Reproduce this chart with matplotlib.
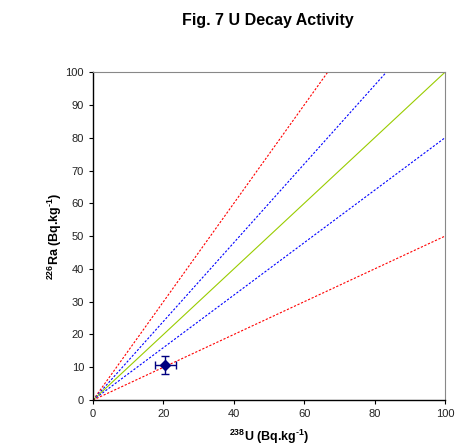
import matplotlib
matplotlib.use("Agg")
import matplotlib.pyplot as plt
import numpy as np

plt.rcParams['font.family'] = ['Liberation Sans', 'DejaVu Sans']
plt.rcParams['mathtext.fontset'] = 'custom'
plt.rcParams['mathtext.rm'] = 'Liberation Sans:bold'
plt.rcParams['mathtext.bf'] = 'Liberation Sans:bold'
plt.rcParams['mathtext.default'] = 'bf'

# Reference activity-ratio lines (Ra/U)
ratios = [1.5, 1.2, 1.0, 0.8, 0.5]
ratio_colors = ['#ff0000', '#0000ff', '#99cc00', '#0000ff', '#ff0000']
ratio_styles = ['--', '--', '-', '--', '--']

# Sample mean with uncertainty
u238 = [20.5]
ra226 = [10.8]
u238_err = [3.0]
ra226_err = [2.7]

xticks = [0, 20, 40, 60, 80, 100]
yticks = list(range(0, 101, 10))

fig = plt.figure(figsize=(4.56, 4.48), dpi=100)
ax = fig.add_axes([0.204, 0.107, 0.772, 0.732])

xs = np.array([0, 100])
for r, c, ls in zip(ratios, ratio_colors, ratio_styles):
    line, = ax.plot(xs, r * xs, color=c, linestyle=ls, linewidth=0.8)
    if ls == '--':
        line.set_dashes((2, 1.5))

ax.errorbar(u238, ra226, xerr=u238_err, yerr=ra226_err, fmt='D', color='#000080',
            markersize=5, ecolor='#000080', elinewidth=1, capsize=3, capthick=1)

ax.set_xlim(0, 100)
ax.set_ylim(0, 100)
ax.set_xticks(xticks)
ax.set_yticks(yticks)
ax.tick_params(labelsize=8, length=3, width=0.8, direction='out', labelcolor='#222222')
for s in ['top', 'right']:
    ax.spines[s].set_color('#888888')
    ax.spines[s].set_linewidth(0.8)
for s in ['left', 'bottom']:
    ax.spines[s].set_color('black')
    ax.spines[s].set_linewidth(1.0)

ax.set_xlabel(r'$^{238}$U (Bq.kg$^{\text{-}1}$)', fontsize=9, fontweight='bold', labelpad=6)
ax.set_ylabel(r'$^{226}$Ra (Bq.kg$^{\text{-}1}$)', fontsize=9, fontweight='bold', labelpad=1)

fig.text(0.587, 0.955, 'Fig. 7 U Decay Activity', ha='center', va='center',
         fontsize=11.5, fontweight='bold')

fig.savefig('out.png', dpi=100)
